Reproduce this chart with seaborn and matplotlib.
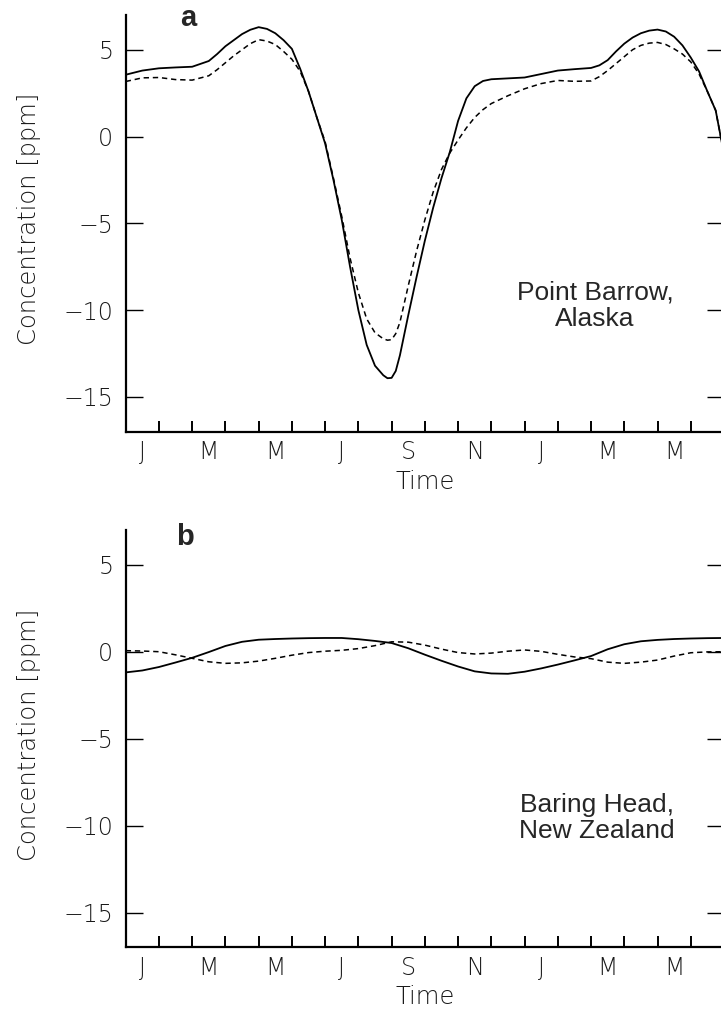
import numpy as np
import pandas as pd
import matplotlib
matplotlib.use("Agg")
import matplotlib.pyplot as plt
import seaborn as sns

# ---------------- data ----------------
month_labels = ["J", "M", "M", "J", "S", "N", "J", "M", "M"]

# Panel a: Point Barrow (time in months from start of January)
time_a = [0, 0.5, 1, 1.5, 2, 2.5, 2.75, 3, 3.25, 3.5, 3.75, 4, 4.25, 4.5,
          4.75, 5, 5.25, 5.5, 5.75, 6, 6.25, 6.5, 6.75, 7, 7.25, 7.5, 7.75,
          7.875, 8, 8.125, 8.25, 8.5, 8.75, 9, 9.25, 9.5, 9.75, 10, 10.25,
          10.5, 10.75, 11, 11.5, 12, 12.5, 13, 13.5, 14, 14.25, 14.5, 14.75,
          15, 15.25, 15.5, 15.75, 16, 16.25, 16.5, 16.75, 17, 17.25, 17.5,
          17.75, 18]
solid_a = [3.56, 3.80, 3.93, 3.98, 4.02, 4.35, 4.75, 5.2, 5.55, 5.9, 6.15,
           6.3, 6.2, 5.95, 5.55, 5.05, 3.9, 2.6, 1.1, -0.4, -2.5, -4.8, -7.5,
           -10.0, -12.0, -13.2, -13.75, -13.92, -13.9, -13.5, -12.6, -10.3,
           -8.1, -6.0, -4.1, -2.4, -0.9, 0.9, 2.2, 2.9, 3.2, 3.3, 3.35, 3.4,
           3.6, 3.8, 3.88, 3.95, 4.1, 4.4, 4.9, 5.35, 5.7, 5.95, 6.1, 6.16,
           6.05, 5.75, 5.25, 4.55, 3.75, 2.6, 1.5, -1.0]
dashed_a = [3.17, 3.38, 3.40, 3.28, 3.25, 3.5, 3.85, 4.25, 4.65, 5.0, 5.35,
            5.58, 5.5, 5.3, 4.9, 4.45, 3.75, 2.6, 1.1, -0.3, -2.4, -4.6, -7.0,
            -9.0, -10.5, -11.3, -11.65, -11.73, -11.7, -11.35, -10.7, -8.6,
            -6.6, -4.8, -3.2, -1.9, -0.95, -0.2, 0.5, 1.1, 1.55, 1.9, 2.35,
            2.75, 3.05, 3.23, 3.18, 3.2, 3.45, 3.8, 4.2, 4.6, 5.0, 5.25, 5.38,
            5.42, 5.3, 5.05, 4.75, 4.3, 3.6, 2.6, 1.5, -1.0]

# Panel b: Baring Head
time_b = [0, 0.5, 1, 1.5, 2, 2.5, 3, 3.5, 4, 4.5, 5, 5.5, 6, 6.5, 7, 7.5, 8,
          8.5, 9, 9.5, 10, 10.5, 11, 11.5, 12, 12.5, 13, 13.5, 14, 14.5, 15,
          15.5, 16, 16.5, 17, 17.5, 18]
solid_b = [-1.19, -1.08, -0.88, -0.62, -0.35, -0.02, 0.33, 0.57, 0.69, 0.73,
           0.76, 0.78, 0.79, 0.79, 0.72, 0.62, 0.50, 0.20, -0.17, -0.52,
           -0.85, -1.13, -1.25, -1.27, -1.15, -0.96, -0.74, -0.50, -0.25,
           0.14, 0.43, 0.60, 0.68, 0.73, 0.76, 0.78, 0.79]
dashed_b = [0.06, 0.04, 0.0, -0.18, -0.38, -0.58, -0.67, -0.64, -0.54, -0.38,
            -0.2, -0.05, 0.03, 0.08, 0.18, 0.35, 0.57, 0.55, 0.38, 0.15,
            -0.05, -0.13, -0.08, 0.03, 0.10, 0.02, -0.15, -0.30, -0.40, -0.6,
            -0.67, -0.6, -0.48, -0.25, -0.06, -0.01, 0.0]

y_ticks = [5, 0, -5, -10, -15]

# ---------------- style ----------------
sns.set_theme(style="white")
plt.rcParams["font.family"] = ["DejaVu Sans"]
plt.rcParams["axes.unicode_minus"] = True
TXT = "#1a1a1a"
AXFONT = dict(family=["DejaVu Sans"], weight="light")

W, H = 721, 1009
fig = plt.figure(figsize=(W / 100, H / 100), dpi=100)


def make_axes(top_px, bottom_px):
    left = 125.7 / W
    right = 724.0 / W
    return fig.add_axes([left, 1 - bottom_px / H, right - left,
                         (bottom_px - top_px) / H])


def style_axes(ax):
    ax.set_xlim(0, 18)
    ax.set_ylim(-17, 7)
    ax.spines["top"].set_visible(False)
    for s in ["left", "bottom", "right"]:
        ax.spines[s].set_color("black")
    ax.spines["left"].set_linewidth(1.6)
    ax.spines["bottom"].set_linewidth(1.6)
    ax.spines["right"].set_linewidth(1.0)
    ax.set_xticks(range(1, 18))
    ax.set_xticklabels([])
    ax.set_xticks([0.5 + 2 * i for i in range(len(month_labels))], minor=True)
    ax.set_xticklabels(month_labels, minor=True, fontsize=17, color=TXT,
                       **AXFONT)
    ax.tick_params(axis="x", which="major", direction="in", length=8,
                   width=1.4, bottom=True, top=False, color="black")
    ax.tick_params(axis="x", which="minor", length=0, pad=6)
    ax.set_yticks(y_ticks)
    ax.set_yticklabels([f"{v}".replace("-", "\u2212") for v in y_ticks],
                       fontsize=17, color=TXT, **AXFONT)
    ax.tick_params(axis="y", direction="in", length=12, width=1.0, left=True,
                   right=True, pad=9, color="black")
    ax.set_xlabel("Time", fontsize=17.5, labelpad=4, color=TXT, **AXFONT)
    ax.set_ylabel("Concentration [ppm]", fontsize=17.5, color=TXT, **AXFONT)
    ax.yaxis.set_label_coords(-0.142, 0.51)
    ax.grid(False)


ax_a = make_axes(15, 431.7)
ax_b = make_axes(530, 947.3)

for ax, t, s, d in [(ax_a, time_a, solid_a, dashed_a),
                    (ax_b, time_b, solid_b, dashed_b)]:
    df = pd.DataFrame({"time": t, "solid": s, "dashed": d})
    sns.lineplot(data=df, x="time", y="solid", ax=ax, color="black",
                 linewidth=1.3, errorbar=None)
    sns.lineplot(data=df, x="time", y="dashed", ax=ax, color="black",
                 linewidth=1.1, linestyle=(0, (3.5, 2.5)), errorbar=None)
    style_axes(ax)

# panel letters and station names
LAB = ["Liberation Sans", "DejaVu Sans"]
fig.text(188 / W, 1 - 18 / H, "a", fontsize=21, fontweight="bold",
         family=LAB, ha="center", va="center")
fig.text(185 / W, 1 - 537 / H, "b", fontsize=21, fontweight="bold",
         family=LAB, ha="center", va="center")
fig.text(595 / W, 1 - 306 / H, "Point Barrow,\nAlaska", fontsize=19,
         family=LAB, ha="center", va="center", linespacing=1.15)
fig.text(597 / W, 1 - 818 / H, "Baring Head,\nNew Zealand", fontsize=19,
         family=LAB, ha="center", va="center", linespacing=1.15)

fig.savefig("out.png", dpi=100)
